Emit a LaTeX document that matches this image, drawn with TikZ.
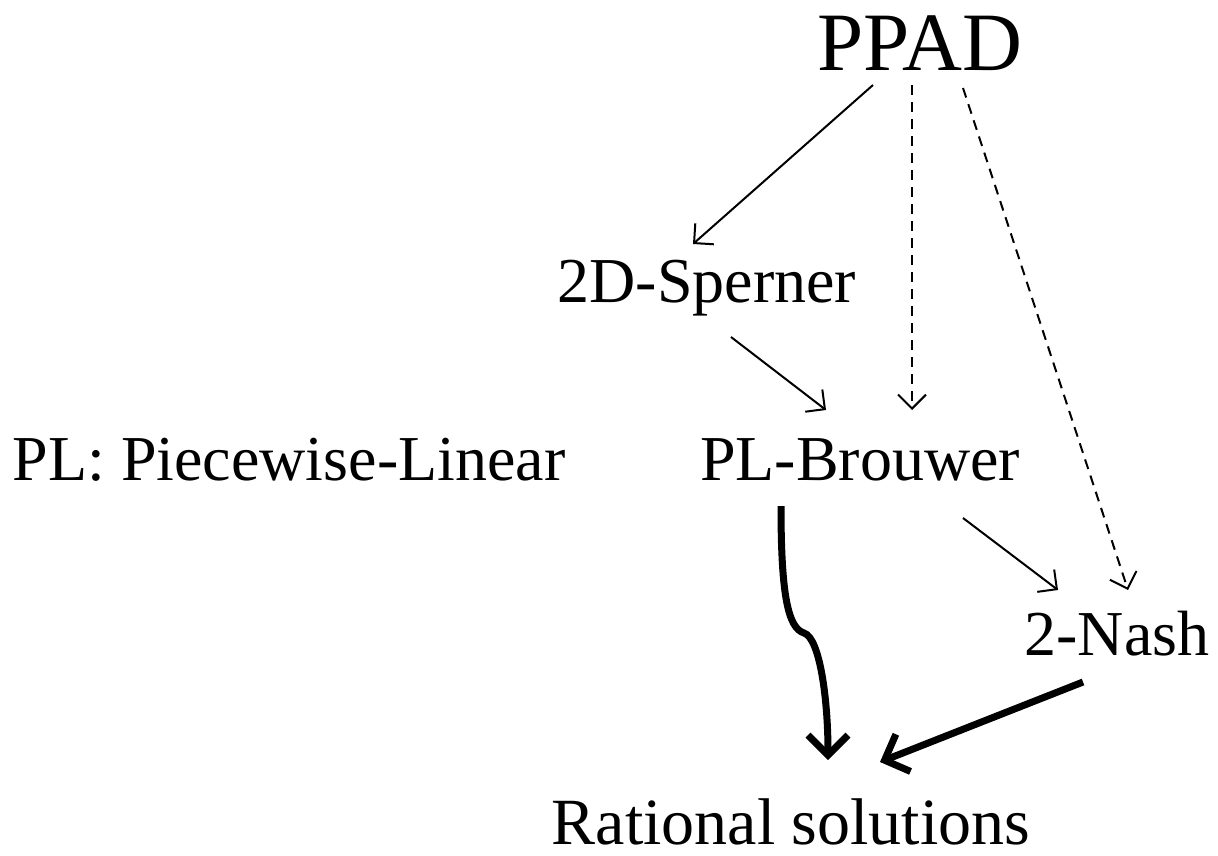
\documentclass[tikz,border=0pt]{standalone}
\usepackage{fontspec}
\setmainfont{Liberation Serif}
\usetikzlibrary{arrows.meta}
\tikzset{
  lbl/.style={anchor=base, inner sep=0pt, font=\fontsize{64}{70}\selectfont},
  thin/.style={line width=2pt, -{Straight Barb[length=14pt, width=28pt]}},
  dashedarrow/.style={thin, dash pattern=on 10pt off 7pt},
  heavy/.style={line width=7pt, -{Straight Barb[length=20pt, width=40pt, line join=miter]}}
}
\begin{document}
\begin{tikzpicture}[x=1pt, y=-1pt]
  \useasboundingbox (0,0) rectangle (1218,855);
  % nodes
  \node[lbl, font=\fontsize{83}{90}\selectfont] (ppad) at (920,70) {PPAD};
  \node[lbl] (sperner) at (707,302) {2D-Sperner};
  \node[lbl] (legend) at (289,480) {PL: Piecewise-Linear};
  \node[lbl] (brouwer) at (860,480) {PL-Brouwer};
  \node[lbl] (nash) at (1117,655) {2-Nash};
  \node[lbl, text depth=0pt, font=\fontsize{66}{72}\selectfont] (rational) at (791,844) {Rational solutions};
  % connector end points
  \coordinate (p1) at (873,85);
  \coordinate (p2) at (912,85);
  \coordinate (p3) at (963,88);
  \coordinate (s1) at (693,244);
  \coordinate (b1) at (912,410);
  \coordinate (n1) at (1128,590);
  \coordinate (s2) at (731,337);
  \coordinate (b2) at (826,410);
  \coordinate (b3) at (963,518);
  \coordinate (n2) at (1058,590);
  \coordinate (b4) at (781,506);
  \coordinate (kink) at (804,633);
  \coordinate (r1) at (828,760);
  \coordinate (n3) at (1083,682);
  \coordinate (r2) at (880,762);
  % connectors
  \draw[thin] (p1) -- (s1);
  \draw[dashedarrow] (p2) -- (b1);
  \draw[dashedarrow] (p3) -- (n1);
  \draw[thin] (s2) -- (b2);
  \draw[thin] (b3) -- (n2);
  \draw[heavy] (b4) .. controls (781,595) and (788,628) .. (kink)
                    .. controls (820,638) and (828,700) .. (r1);
  \draw[heavy] (n3) -- (r2);
\end{tikzpicture}
\end{document}
